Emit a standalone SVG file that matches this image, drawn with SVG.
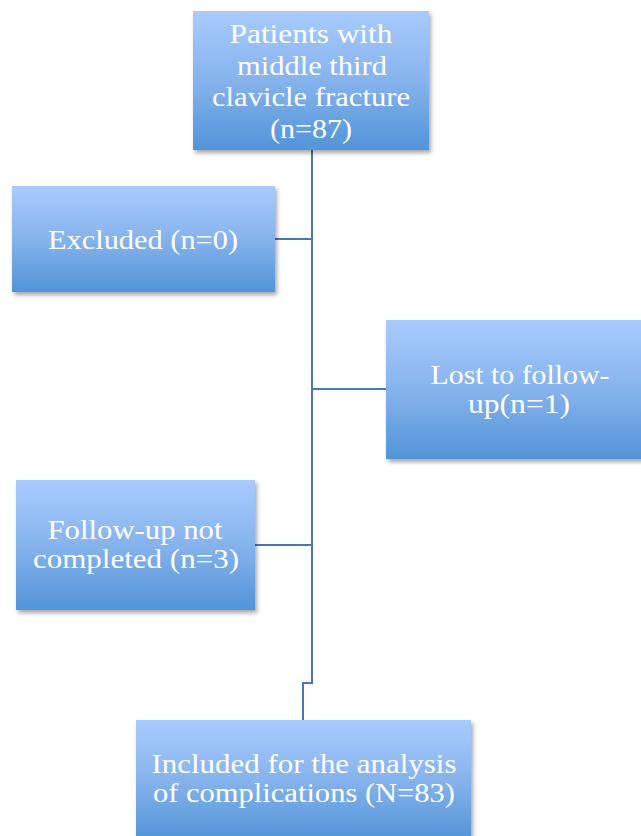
<svg xmlns="http://www.w3.org/2000/svg" width="641" height="836" viewBox="0 0 641 836">
<defs>
<linearGradient id="g" x1="0" y1="0" x2="0" y2="1">
<stop offset="0" stop-color="#a9cbfd"/>
<stop offset="0.5" stop-color="#86b3ec"/>
<stop offset="1" stop-color="#5294d8"/>
</linearGradient>
<filter id="sh" x="-10%" y="-10%" width="125%" height="130%">
<feDropShadow dx="2" dy="3" stdDeviation="2" flood-color="#000" flood-opacity="0.35"/>
</filter>
</defs>
<style>
.box{fill:url(#g);filter:url(#sh);}
.t{font-family:"Liberation Serif","DejaVu Serif",serif;font-size:27px;fill:#ffffff;text-anchor:middle;}
.c{fill:none;stroke:#4a78ad;stroke-width:2;}
</style>
<rect width="641" height="836" fill="#ffffff"/>
<g id="connectors">
<polyline class="c" points="312,150 312,683 303,683 303,720"/>
<line class="c" x1="275" y1="239" x2="312" y2="239"/>
<line class="c" x1="312" y1="389" x2="386" y2="389"/>
<line class="c" x1="255" y1="545" x2="312" y2="545"/>
</g>
<g id="patients">
<rect class="box" x="193" y="11" width="236" height="139"/>
<text class="t" x="311" y="43" textLength="163" lengthAdjust="spacingAndGlyphs">Patients with</text>
<text class="t" x="312" y="75" textLength="150" lengthAdjust="spacingAndGlyphs">middle third</text>
<text class="t" x="311" y="106" textLength="198" lengthAdjust="spacingAndGlyphs">clavicle fracture</text>
<text class="t" x="311" y="138" textLength="82" lengthAdjust="spacingAndGlyphs">(n=87)</text>
</g>
<g id="excluded">
<rect class="box" x="12" y="186" width="263" height="106"/>
<text class="t" x="143" y="249" textLength="190" lengthAdjust="spacingAndGlyphs">Excluded (n=0)</text>
</g>
<g id="lost">
<rect class="box" x="386" y="320" width="258" height="139"/>
<text class="t" x="520" y="384" textLength="179" lengthAdjust="spacingAndGlyphs">Lost to follow-</text>
<text class="t" x="519" y="413" textLength="102" lengthAdjust="spacingAndGlyphs">up(n=1)</text>
</g>
<g id="notcompleted">
<rect class="box" x="16" y="480" width="239" height="130"/>
<text class="t" x="135" y="539" textLength="175" lengthAdjust="spacingAndGlyphs">Follow-up not</text>
<text class="t" x="136" y="568" textLength="206" lengthAdjust="spacingAndGlyphs">completed (n=3)</text>
</g>
<g id="included">
<rect class="box" x="136" y="720" width="335" height="120"/>
<text class="t" x="304" y="773" textLength="305" lengthAdjust="spacingAndGlyphs">Included for the analysis</text>
<text class="t" x="304" y="802" textLength="302" lengthAdjust="spacingAndGlyphs">of complications (N=83)</text>
</g>
</svg>
